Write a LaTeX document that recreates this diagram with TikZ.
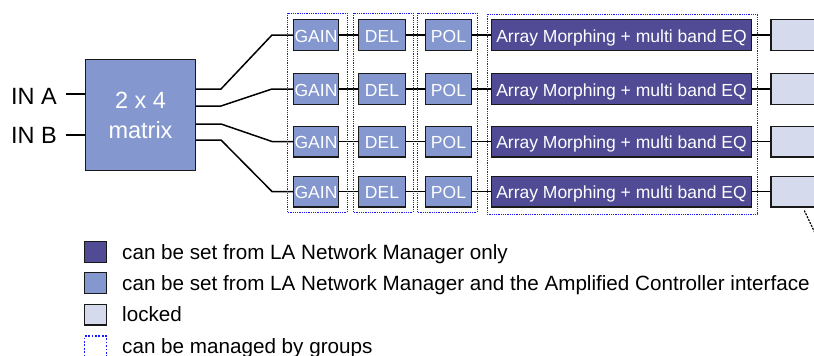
\documentclass[tikz,border=0pt]{standalone}
\usepackage{fontspec}
\setmainfont{Liberation Sans}
\usetikzlibrary{calc}
\definecolor{darkbox}{HTML}{514B96}
\definecolor{midbox}{HTML}{8497CE}
\definecolor{lightbox}{HTML}{D5DAEC}
\definecolor{grpblue}{HTML}{1A1AFF}
\begin{document}
\begin{tikzpicture}[x=1pt,y=-1pt,
  box/.style={draw=black!90, line width=1.4pt, minimum height=30.6pt, inner sep=0pt,
    text=white, font=\fontsize{17.5}{20}\selectfont, text height=14pt, text depth=0pt},
  midb/.style={box, fill=midbox},
  darkb/.style={box, fill=darkbox},
  lockb/.style={box, fill=lightbox, minimum width=60pt},
  wire/.style={line width=1.5pt, black},
  grp/.style={draw=grpblue, line width=0.8pt, dash pattern=on 0.9pt off 0.9pt},
  lab/.style={inner sep=0pt, font=\fontsize{23.5}{30}\selectfont},
  legtxt/.style={inner sep=0pt, anchor=base west, font=\fontsize{20.65}{24}\selectfont},
  legsq/.style={draw=black!90, line width=1.4pt, minimum width=21.6pt, minimum height=20.6pt, inner sep=0pt}
]
\useasboundingbox (0,0) rectangle (814,356);
\clip (0,0) rectangle (814,356);

% matrix and inputs
\node[draw=black!90, line width=1.4pt, fill=midbox, text=white, inner sep=0pt,
      minimum width=109.6pt, minimum height=110.6pt, font=\fontsize{23.5}{30}\selectfont,
      align=center] (mat) at (140.5,115) {2 x 4\\matrix};
\node[lab, anchor=base east] (ina) at (57,104) {IN A};
\node[lab, anchor=base east] (inb) at (57,143) {IN B};
\draw[wire] ([xshift=9pt]ina.east |- 0,94) coordinate (ia) -- (ia -| mat.west);
\draw[wire] ([xshift=9pt]inb.east |- 0,135) coordinate (ib) -- (ib -| mat.west);

% rows
\foreach \i/\y in {1/35,2/89,3/141.5,4/191.5}{
  \node[midb, minimum width=44.6pt] (g\i) at (316,\y) {GAIN};
  \node[midb, minimum width=46.6pt] (d\i) at (382,\y) {DEL};
  \node[midb, minimum width=45.6pt] (p\i) at (448.5,\y) {POL};
  \node[darkb, minimum width=259.6pt] (a\i) at (621.5,\y) {Array Morphing + multi band EQ};
  \node[lockb] (l\i) at (801,\y) {};
  \draw[wire] (g\i.east) -- (d\i.west);
  \draw[wire] (d\i.east) -- (p\i.west);
  \draw[wire] (p\i.east) -- (a\i.west);
  \draw[wire] (a\i.east) -- (l\i.west);
}

% matrix outputs
\draw[wire] ($(mat.east)+(0,-26)$) -- ++(25,0) -- ($(g1.west)+(-21,0)$) -- (g1.west);
\draw[wire] ($(mat.east)+(0,-9)$) -- ++(25,0) -- ($(g2.west)+(-21,0)$) -- (g2.west);
\draw[wire] ($(mat.east)+(0,9)$) -- ++(25,0) -- ($(g3.west)+(-21,0)$) -- (g3.west);
\draw[wire] ($(mat.east)+(0,25)$) -- ++(25,0) -- ($(g4.west)+(-21,0)$) -- (g4.west);

% groups
\draw[grp] (287,13) rectangle (347,212);
\draw[grp] (353,13) rectangle (413,212);
\draw[grp] (417,13) rectangle (477,212);
\draw[grp] (487,14) rectangle (757,214);

% dashed continuation
\coordinate (dashend) at (815,233);
\draw[line width=1.2pt, dash pattern=on 2pt off 1.2pt] ($(l4.south west)+(34,3)$) -- (dashend);

% legend
\node[legsq, fill=darkbox] (s1) at (95.5,252) {};
\node[legsq, fill=midbox] (s2) at (95.5,283) {};
\node[legsq, fill=lightbox] (s3) at (95.5,314.5) {};
\node[draw=grpblue, line width=1.4pt, dash pattern=on 1.7pt off 1.7pt, minimum width=21.6pt, minimum height=30pt, inner sep=0pt] (s4) at (95.5,351) {};
\node[legtxt] (t1) at (122,259) {can be set from LA Network Manager only};
\node[legtxt] (t2) at (122,290) {can be set from LA Network Manager and the Amplified Controller interface};
\node[legtxt] (t3) at (122,321.5) {locked};
\node[legtxt] (t4) at (122,353) {can be managed by groups};
\end{tikzpicture}
\end{document}
